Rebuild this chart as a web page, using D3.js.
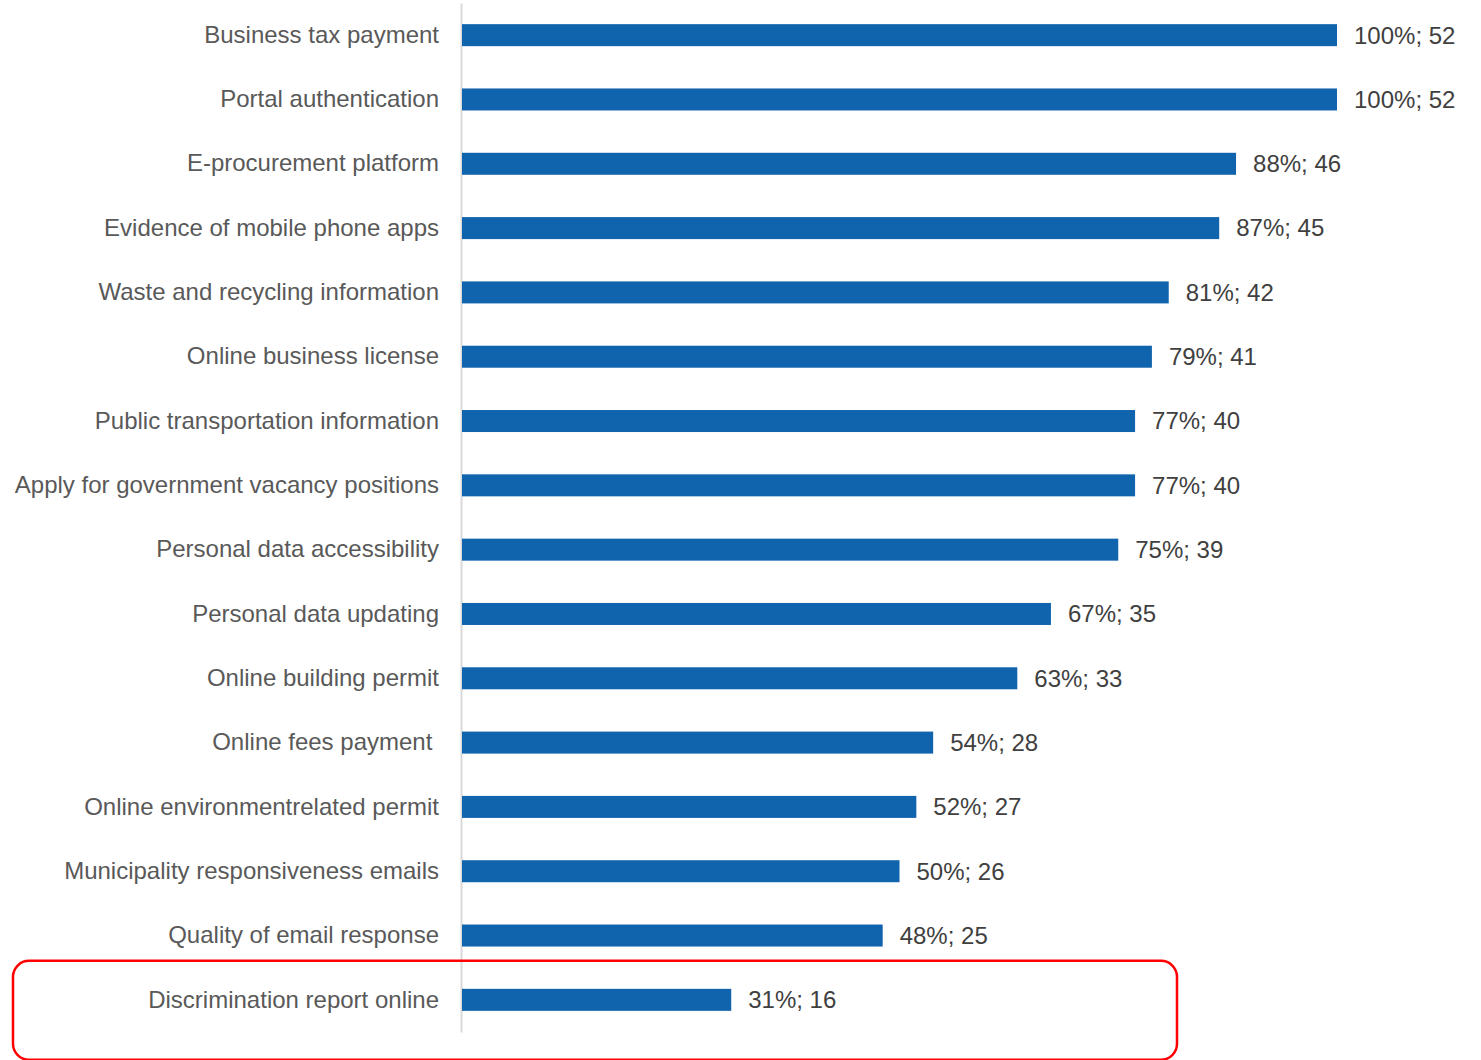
<!DOCTYPE html>
<html>
<head>
<meta charset="utf-8">
<script src="https://cdn.jsdelivr.net/npm/d3@7"></script>
<style>
  html, body { margin: 0; padding: 0; background: #fff; }
  svg { display: block; }
</style>
</head>
<body>
<div id="chart"></div>
<script>
// 数据
const categories = [
  "Business tax payment",
  "Portal authentication",
  "E-procurement platform",
  "Evidence of mobile phone apps",
  "Waste and recycling information",
  "Online business license",
  "Public transportation information",
  "Apply for government vacancy positions",
  "Personal data accessibility",
  "Personal data updating",
  "Online building permit",
  "Online fees payment ",
  "Online environmentrelated permit",
  "Municipality responsiveness emails",
  "Quality of email response",
  "Discrimination report online"
]
const counts = [52, 52, 46, 45, 42, 41, 40, 40, 39, 35, 33, 28, 27, 26, 25, 16]
const percents = [100, 100, 88, 87, 81, 79, 77, 77, 75, 67, 63, 54, 52, 50, 48, 31]
const highlighted = ["Discrimination report online"]

const width = 1481
const height = 1060
const marginTop = 3
const marginBottom = 28      // 底部留白
const marginLeft = 462
const maxBarRight = 1337
const barHeight = 22
const barColor = "#1063AD"
const labelColor = "#595959"
const valueColor = "#404040"
const fontFamily = "Arial, 'Liberation Sans', sans-serif"

const rows = categories.map((c, i) => ({ name: c, count: counts[i], pct: percents[i] }))

const svg = d3.select("#chart")
  .append("svg")
  .attr("width", width)
  .attr("height", height)
  .attr("viewBox", [0, 0, width, height])

const yScale = d3.scaleBand(categories, [marginTop, height - marginBottom])
const xScale = d3.scaleLinear([0, d3.max(counts)], [marginLeft, maxBarRight])

// 类目标签 (y 轴)
const yAxis = d3.axisLeft(yScale).tickSize(0).tickPadding(22)
svg.append("g")
  .attr("transform", `translate(${marginLeft - 1},0)`)
  .call(yAxis)
  .call(g => g.select(".domain").attr("stroke", "#d9d9d9").attr("stroke-width", 2))
  .call(g => g.selectAll(".tick text")
    .attr("fill", labelColor)
    .style("white-space", "pre")
    .style("font-family", fontFamily)
    .style("font-size", "24px"))

// 柱子
svg.append("g")
  .selectAll("rect")
  .data(rows)
  .join("rect")
  .attr("x", xScale(0))
  .attr("y", d => yScale(d.name) + yScale.bandwidth() / 2 - barHeight / 2)
  .attr("width", d => xScale(d.count) - xScale(0))
  .attr("height", barHeight)
  .attr("fill", barColor)

// 数值标签
svg.append("g")
  .selectAll("text")
  .data(rows)
  .join("text")
  .attr("x", d => xScale(d.count) + 17)
  .attr("y", d => yScale(d.name) + yScale.bandwidth() / 2)
  .attr("dy", "0.35em")
  .attr("fill", valueColor)
  .style("font-family", fontFamily)
  .style("font-size", "24px")
  .text(d => `${d.pct}%; ${d.count}`)

// 红框
highlighted.forEach(name => {
  const cy = yScale(name) + yScale.bandwidth() / 2
  svg.append("rect")
    .attr("x", 13)
    .attr("y", cy - 39)
    .attr("width", 1164)
    .attr("height", 99)
    .attr("rx", 16)
    .attr("fill", "none")
    .attr("stroke", "#FF0000")
    .attr("stroke-width", 2.5)
})
</script>
</body>
</html>
